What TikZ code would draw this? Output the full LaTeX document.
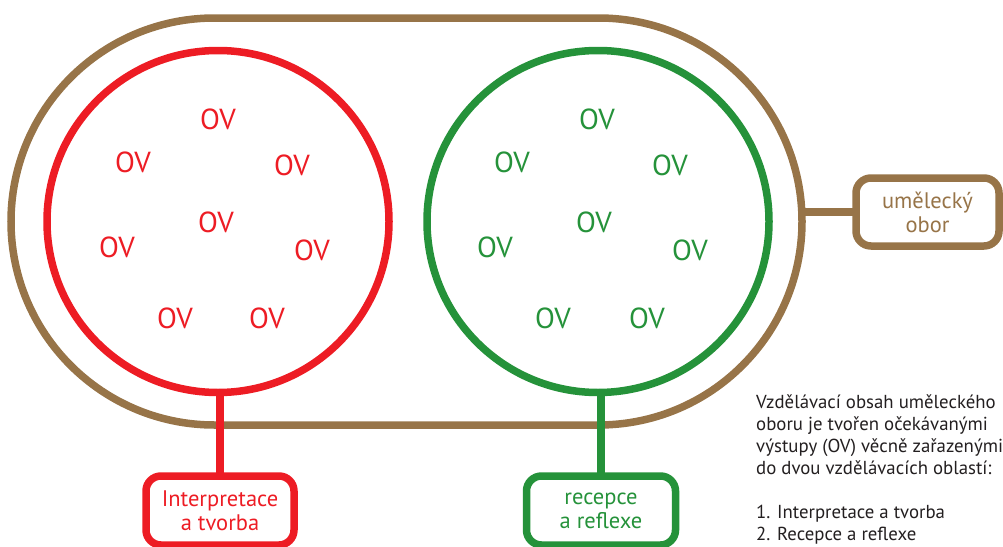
\documentclass[tikz,border=0pt]{standalone}
\usepackage{fontspec}
\setmainfont{PT Sans}
\usetikzlibrary{shapes.misc}
\definecolor{brn}{RGB}{151,116,72}
\definecolor{rd}{RGB}{237,28,36}
\definecolor{gr}{RGB}{37,146,58}
\definecolor{txt}{RGB}{35,31,32}
\begin{document}
\begin{tikzpicture}[x=1pt,y=-1pt,
  thick line/.style={line width=7.5pt},
  ring/.style={thick line, circle, minimum size=342pt, inner sep=0pt, outer sep=0pt},
  box/.style={thick line, rounded corners=15pt, inner sep=0pt, outer sep=0pt, align=center, font=\fontsize{22.5}{24}\selectfont},
  ov/.style={font=\fontsize{29}{30}\selectfont, inner sep=0pt}
]
\useasboundingbox (0,0) rectangle (1003,546);
% outer stadium
\node[draw=brn, thick line, rounded rectangle, minimum width=791pt, minimum height=407pt, inner sep=0pt, outer sep=0pt] (stad) at (406.5,221.5) {};
% circles
\node[draw=rd, ring] (redc) at (218,221.5) {};
\node[draw=gr, ring] (grc) at (598,221.5) {};
% boxes
\node[draw=rd, box, text=rd, minimum width=148pt, minimum height=69pt] (interp) at (220,510.5) {Interpretace\\a tvorba};
\node[draw=gr, box, text=gr, minimum width=149pt, minimum height=69pt] (recep) at (601,510.5) {recepce\\a reflexe};
\node[draw=brn, box, text=brn, minimum width=143pt, minimum height=68pt] (umel) at (927.5,212) {umělecký\\obor};
% connectors
\draw[rd, thick line] (interp.north) -- (interp.north |- redc.south);
\draw[gr, thick line] (recep.north) -- (recep.north |- grc.south);
\draw[brn, thick line] (stad.east |- umel.west) -- (umel.west);
% OV labels
\foreach \p [count=\i] in {(218,119),(133,162),(292,165),(216,222),(117,247),(312,250),(175,318),(267,318)}
  \node[ov, text=rd] (r\i) at \p {OV};
\foreach \p [count=\i] in {(597,119),(512,162),(670,165),(594,222),(495,247),(690,250),(553,318),(647,318)}
  \node[ov, text=gr] (g\i) at \p {OV};
% description
\node[anchor=north west, inner sep=0pt, align=left, text=txt, font=\fontsize{18.8}{22}\selectfont] (desc) at (756,395)
 {Vzdělávací obsah uměleckého\\oboru je tvořen očekávanými\\výstupy (OV) věcně zařazenými\\do dvou vzdělávacích oblastí:\\[22pt]1. Interpretace a tvorba\\2. Recepce a reflexe};
\end{tikzpicture}
\end{document}
